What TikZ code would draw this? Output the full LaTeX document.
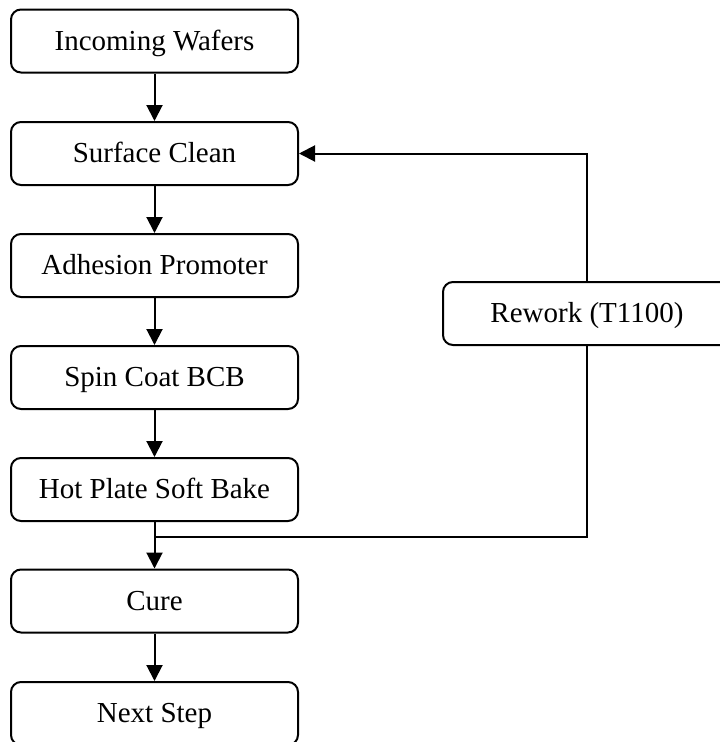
\documentclass[tikz,border=0pt]{standalone}
\usepackage{fontspec}
\setmainfont{Liberation Serif}
\usetikzlibrary{arrows.meta}
\begin{document}
\begin{tikzpicture}[x=1pt,y=-1pt,
 box/.style={draw, line width=2pt, rounded corners=10pt, minimum width=287pt, minimum height=63pt, inner sep=0pt, text height=21pt, text depth=3pt, font=\fontsize{29}{34}\selectfont},
 conn/.style={line width=2pt},
 arr/.style={conn, -{Triangle[length=16pt,width=16pt]}}]
\useasboundingbox (0,0) rectangle (720,742);
\clip (0,0) rectangle (720,742);
\node[box] (iw) at (154.5,41) {Incoming Wafers};
\node[box] (sc) at (154.5,153.5) {Surface Clean};
\node[box] (ap) at (154.5,265.5) {Adhesion Promoter};
\node[box] (sb) at (154.5,377.5) {Spin Coat BCB};
\node[box] (hp) at (154.5,489.5) {Hot Plate Soft Bake};
\node[box] (cu) at (154.5,601) {Cure};
\node[box] (ns) at (154.5,713.5) {Next Step};
\node[box, minimum width=288pt] (rw) at (587,313.5) {Rework (T1100)};
\coordinate (j) at (154.5,537);
\draw[arr] (iw) -- (sc);
\draw[arr] (sc) -- (ap);
\draw[arr] (ap) -- (sb);
\draw[arr] (sb) -- (hp);
\draw[arr] (hp) -- (cu);
\draw[arr] (cu) -- (ns);
\draw[arr] (rw.north) |- (sc.east);
\draw[conn] (rw.south) |- (j);
\end{tikzpicture}
\end{document}
